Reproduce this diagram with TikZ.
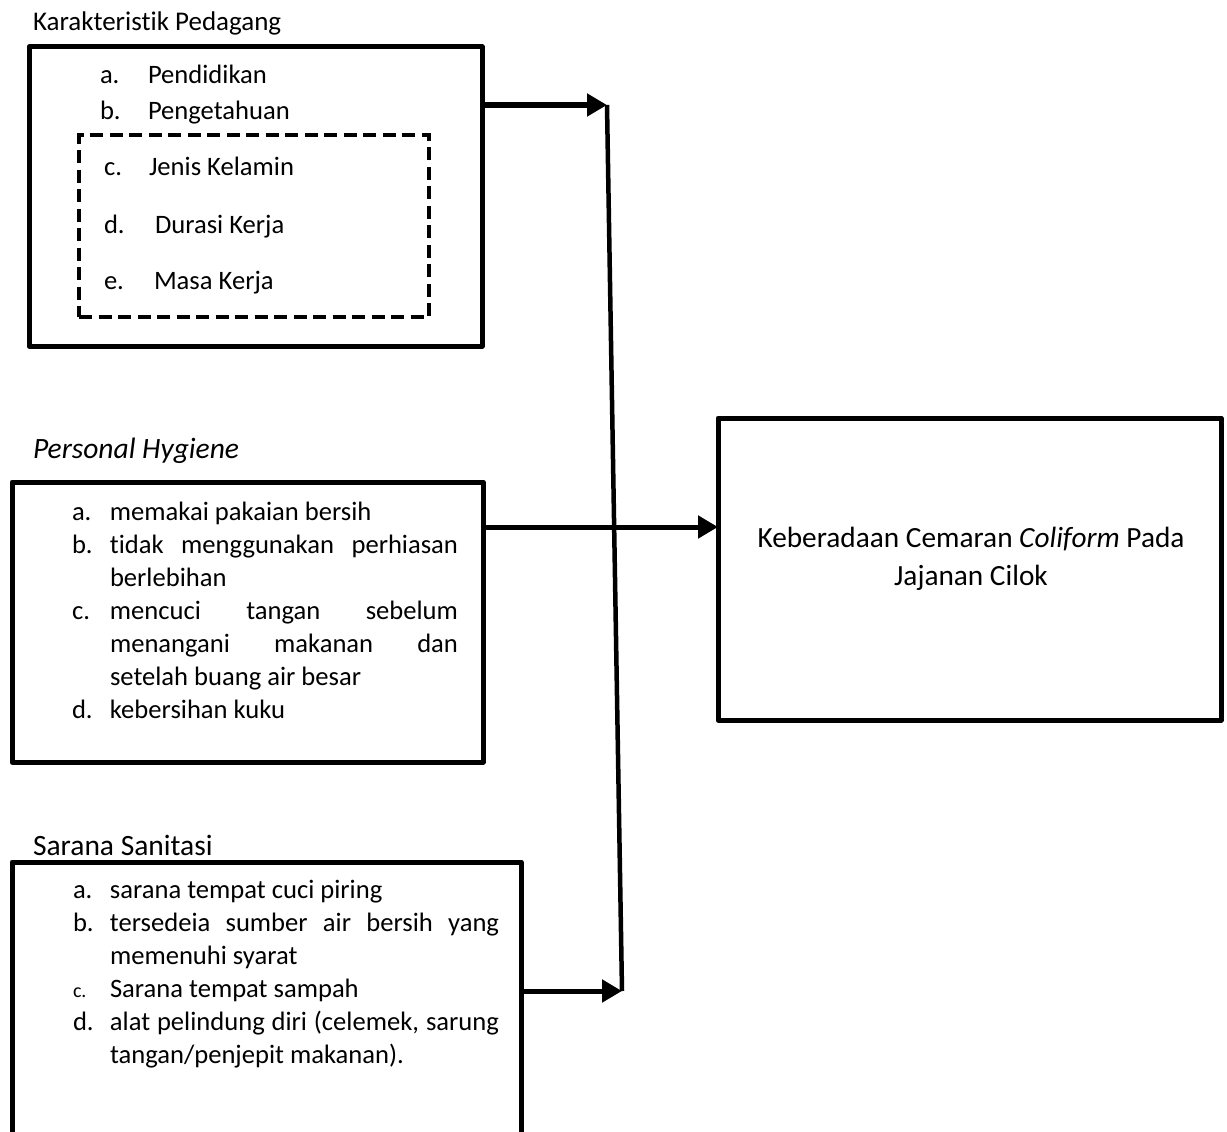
\documentclass[tikz,border=0pt]{standalone}
\usepackage{fontspec}
\setmainfont{Carlito}[Ligatures=NoCommon]
\usetikzlibrary{arrows.meta}
\begin{document}
\begin{tikzpicture}[x=1pt,y=-1pt,
  every node/.style={inner sep=0pt,outer sep=0pt,font=\fontsize{26.6}{33}\selectfont},
  ttl/.style={anchor=base west,font=\fontsize{29.5}{33}\selectfont},
  box/.style={draw,line width=5pt,line join=round,anchor=north west},
  dbox/.style={draw,line width=4pt,dash pattern=on 13pt off 6.5pt,anchor=north west},
  conn/.style={line width=5pt,-{Triangle[length=20pt,width=22pt]}},
  vline/.style={line width=4.5pt}]
\useasboundingbox (0,0) rectangle (1227,1132);
% boxes
\node[box,minimum width=453pt,minimum height=299pt] (b1) at (29,47) {};
\node[dbox,minimum width=350pt,minimum height=182pt] (db) at (79,135) {};
\node[box,minimum width=471pt,minimum height=280pt] (b2) at (12,482) {};
\node[box,minimum width=503pt,minimum height=302pt] (b4) at (718,418) {};
\node[minimum width=509pt,minimum height=272pt,anchor=north west] (b3) at (12,862) {};
\draw[line width=5pt,line join=round] (b3.south west) -- (b3.north west) -- (b3.north east) -- (b3.south east);
% titles
\node[anchor=base west,font=\fontsize{27}{33}\selectfont] (t1) at (33,31) {Karakteristik Pedagang};
\node[ttl] (t2) at (33,458) {\itshape Personal Hygiene};
\node[ttl] (t3) at (33,855) {Sarana Sanitasi};
% box 1 items
\node[anchor=base west] (k1) at (100,84) {a.};
\node[anchor=base west] (i1) at (148,84) {Pendidikan};
\node[anchor=base west] (k2) at (100,119) {b.};
\node[anchor=base west] (i2) at (148,119) {Pengetahuan};
\node[anchor=base west] (k3) at (104,175) {c.};
\node[anchor=base west] (i3) at (149,175) {Jenis Kelamin};
\node[anchor=base west] (k4) at (104,233) {d.};
\node[anchor=base west] (i4) at (155,233) {Durasi Kerja};
\node[anchor=base west] (k5) at (104,289) {e.};
\node[anchor=base west] (i5) at (154,289) {Masa Kerja};
% box 2 list
\node[anchor=base west] (l2) at (72,520) {\begin{tabular}[t]{@{}p{38pt}@{}p{348pt}@{}}
a. & memakai pakaian bersih\\
b. & tidak\hfill menggunakan\hfill perhiasan\\
   & berlebihan\\
c. & mencuci\hfill tangan\hfill sebelum\\
   & menangani\hfill makanan\hfill dan\\
   & setelah buang air besar\\
d. & kebersihan kuku
\end{tabular}};
% box 3 list
\node[anchor=base west] (l3) at (73,898) {\begin{tabular}[t]{@{}p{37pt}@{}p{389pt}@{}}
a. & sarana tempat cuci piring\\
b. & tersedeia\hfill sumber\hfill air\hfill bersih\hfill yang\\
   & memenuhi syarat\\
{\fontsize{20}{33}\selectfont c.} & Sarana tempat sampah\\
d. & \makebox[389pt][s]{alat pelindung diri (celemek, sarung}\\
   & tangan/penjepit makanan).
\end{tabular}};
% box 4 text
\node[anchor=base,align=center,font=\fontsize{29.3}{38}\selectfont] (tx) at (971,585) {Keberadaan Cemaran \textit{Coliform} Pada\\Jajanan Cilok};
% connectors
\coordinate (j1) at (607,105);
\coordinate (j3) at (622,991);
\draw[vline] (j1) -- (j3);
\draw[conn] (b1.east |- j1) -- (j1);
\draw[conn] (b3.east |- j3) -- (j3);
\coordinate (a2) at (0,527);
\draw[conn] (b2.east |- a2) -- (b4.west |- a2);
\end{tikzpicture}
\end{document}
